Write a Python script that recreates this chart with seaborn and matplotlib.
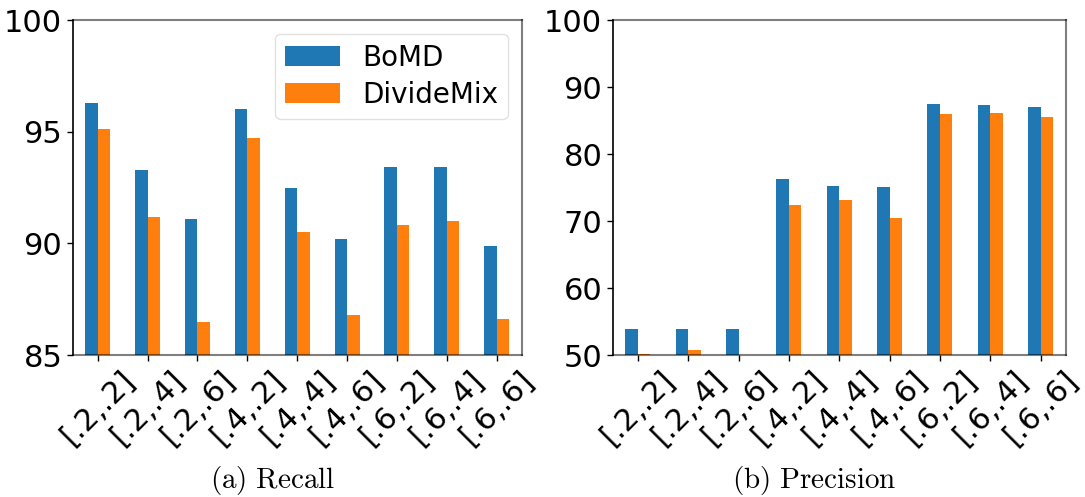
import matplotlib
matplotlib.use("Agg")
import matplotlib.pyplot as plt
import seaborn as sns
import pandas as pd

categories = ["[.2,.2]", "[.2,.4]", "[.2,.6]", "[.4,.2]", "[.4,.4]", "[.4,.6]", "[.6,.2]", "[.6,.4]", "[.6,.6]"]
methods = ["BoMD", "DivideMix"]
recall_bomd = [96.3, 93.3, 91.1, 96.0, 92.5, 90.2, 93.4, 93.4, 89.9]
recall_dividemix = [95.1, 91.2, 86.5, 94.7, 90.5, 86.8, 90.8, 91.0, 86.6]
precision_bomd = [53.9, 53.9, 53.9, 76.3, 75.2, 75.1, 87.5, 87.3, 87.0]
precision_dividemix = [50.15, 50.75, 49.5, 72.4, 73.1, 70.45, 86.0, 86.1, 85.5]
colors = ["#1f77b4", "#ff7f0e"]

sns.set_style("white", {"text.color": "black", "xtick.color": "black",
                        "ytick.color": "black", "axes.labelcolor": "black"})
plt.rcParams["font.family"] = ["DejaVu Sans"]
plt.rcParams["mathtext.fontset"] = "cm"


def long_df(a, b):
    return pd.DataFrame({
        "cat": categories * 2,
        "val": list(a) + list(b),
        "method": [methods[0]] * len(a) + [methods[1]] * len(b),
    })


fig = plt.figure(figsize=(10.85, 4.97), dpi=100)
ax1 = fig.add_axes([0.067, 0.2857, 0.4138, 0.674])
ax2 = fig.add_axes([0.5647, 0.2857, 0.4175, 0.674])

for ax, (a, b), ylim, yticks in [
    (ax1, (recall_bomd, recall_dividemix), (85, 100), [85, 90, 95, 100]),
    (ax2, (precision_bomd, precision_dividemix), (50, 100), [50, 60, 70, 80, 90, 100]),
]:
    sns.barplot(data=long_df(a, b), x="cat", y="val", hue="method", order=categories,
                hue_order=methods, palette=colors, saturation=1, width=0.5,
                linewidth=0, ax=ax, legend=(ax is ax1))
    ax.set_ylim(*ylim)
    ax.set_xlim(-0.5, len(categories) - 0.5)
    ax.set_yticks(yticks)
    ax.set_xlabel("")
    ax.set_ylabel("")
    ax.tick_params(axis="both", labelsize=22, length=4, width=1, color="black",
                   labelcolor="black", left=True, bottom=True, direction="out")
    for lab in ax.get_xticklabels():
        lab.set_rotation(45)
        lab.set_ha("center")
    for side in ["top", "right", "bottom"]:
        ax.spines[side].set_color((0, 0, 0, 0.5))
        ax.spines[side].set_linewidth(1.5)
        ax.spines[side].set_zorder(5)
    ax.spines["left"].set_color("black")
    ax.spines["left"].set_linewidth(1.2)

leg = ax1.legend(loc="upper right", fontsize=20, handlelength=2.0, handleheight=0.72,
                 handletextpad=0.78, borderpad=0.35, labelspacing=0.33, frameon=True,
                 borderaxespad=0.5)
leg.get_frame().set_edgecolor("#d9d9d9")
for t in leg.get_texts():
    t.set_color("black")

fig.text(0.251, 0.034, r"$\mathrm{(a)\ Recall}$", ha="center", va="center", fontsize=21, color="black")
fig.text(0.750, 0.034, r"$\mathrm{(b)\ Precision}$", ha="center", va="center", fontsize=21, color="black")

fig.savefig("out.png", dpi=100)
